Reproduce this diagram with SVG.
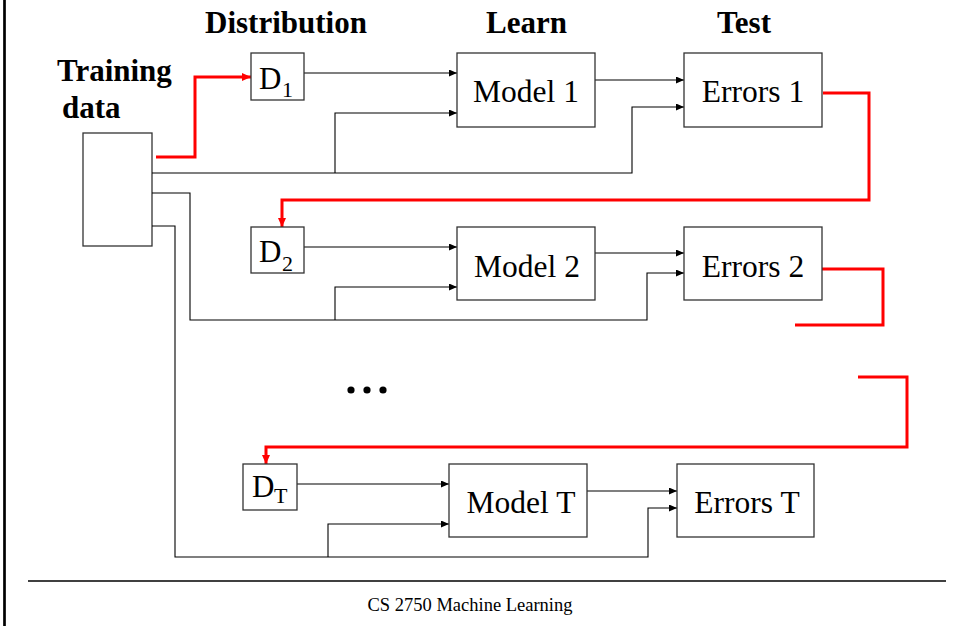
<svg xmlns="http://www.w3.org/2000/svg" width="955" height="626" viewBox="0 0 955 626">
<defs>
<marker id="ah" markerWidth="8" markerHeight="7" refX="8" refY="3.5" orient="auto" markerUnits="userSpaceOnUse"><path d="M0,0 L8,3.5 L0,7 z" fill="#000"/></marker>
<marker id="ahr" markerWidth="9" markerHeight="8" refX="9" refY="4" orient="auto" markerUnits="userSpaceOnUse"><path d="M0,0 L9,4 L0,8 z" fill="#ff0000"/></marker>
</defs>
<style>
.box{fill:#fff;stroke:#333;stroke-width:1.3}
.lbl{font-family:"Liberation Serif","Times New Roman",serif;font-size:31.5px;fill:#000;text-anchor:middle}
.hd{font-family:"Liberation Serif","Times New Roman",serif;font-size:31px;font-weight:bold;fill:#000}
.dl{font-family:"Liberation Serif","Times New Roman",serif;font-size:31px;fill:#000}
.ds{font-family:"Liberation Serif","Times New Roman",serif;font-size:22px;fill:#000}
.ln{fill:none;stroke:#000;stroke-width:1.1}
.arr{marker-end:url(#ah)}
.red{fill:none;stroke:#ff0000;stroke-width:3}
.redarr{marker-end:url(#ahr)}
</style>
<rect width="955" height="626" fill="#fff"/>
<line x1="4.5" y1="0" x2="4.5" y2="626" stroke="#000" stroke-width="2.7"/>
<line x1="28" y1="581" x2="946" y2="581" stroke="#000" stroke-width="1.4"/>
<text x="470" y="611" font-family="'Liberation Serif','Times New Roman',serif" font-size="19" text-anchor="middle" textLength="205" lengthAdjust="spacingAndGlyphs">CS 2750 Machine Learning</text>

<g id="headings">
<text class="hd" x="205" y="33">Distribution</text>
<text class="hd" x="486" y="33">Learn</text>
<text class="hd" x="717" y="33">Test</text>
</g>

<g id="training-data">
<text class="hd" x="57" y="81">Training</text>
<text class="hd" x="62" y="118">data</text>
<rect class="box" x="83" y="133" width="69" height="113"/>
</g>

<g id="connectors">
<polyline class="red redarr" points="156,157 195,157 195,77 251,77"/>
<line class="ln arr" x1="304" y1="73" x2="457" y2="73"/>
<polyline class="ln arr" points="152,173 632,173 632,107 684,107"/>
<polyline class="ln arr" points="335,173 335,113 457,113"/>
<line class="ln arr" x1="595" y1="80" x2="684" y2="80"/>
<polyline class="red redarr" points="823,93 869,93 869,200 282,200 282,227"/>

<line class="ln arr" x1="304" y1="247" x2="457" y2="247"/>
<polyline class="ln arr" points="152,193 190,193 190,320 647,320 647,273 684,273"/>
<polyline class="ln arr" points="335,320 335,287 457,287"/>
<line class="ln arr" x1="595" y1="253" x2="684" y2="253"/>
<polyline class="red" points="819,269 883,269 883,325 795,325"/>

<polyline class="red redarr" points="858,377 907,377 907,447 266,447 266,464"/>

<line class="ln arr" x1="297" y1="484" x2="449" y2="484"/>
<polyline class="ln arr" points="152,226 175,226 175,557 648,557 648,508 677,508"/>
<polyline class="ln arr" points="328,557 328,524 449,524"/>
<line class="ln arr" x1="587" y1="491" x2="677" y2="491"/>
</g>

<g id="d1">
<rect class="box" x="251" y="53" width="53" height="47"/>
<text class="dl" x="259" y="88.5">D</text><text class="ds" x="282" y="97">1</text>
</g>
<g id="model1">
<rect class="box" x="457" y="53" width="138" height="74"/>
<text class="lbl" x="526" y="102">Model 1</text>
</g>
<g id="errors1">
<rect class="box" x="684" y="53" width="138" height="74"/>
<text class="lbl" x="753" y="102">Errors 1</text>
</g>

<g id="d2">
<rect class="box" x="251" y="227" width="53" height="46"/>
<text class="dl" x="259" y="262">D</text><text class="ds" x="282" y="271">2</text>
</g>
<g id="model2">
<rect class="box" x="457" y="227" width="138" height="73"/>
<text class="lbl" x="527" y="277">Model 2</text>
</g>
<g id="errors2">
<rect class="box" x="684" y="227" width="138" height="73"/>
<text class="lbl" x="753" y="277">Errors 2</text>
</g>

<g id="ellipsis">
<circle cx="351" cy="390" r="3.6"/>
<circle cx="367" cy="390" r="3.6"/>
<circle cx="383" cy="390" r="3.6"/>
</g>

<g id="dT">
<rect class="box" x="243" y="464" width="54" height="46"/>
<text class="dl" x="252" y="497">D</text><text class="ds" x="274" y="503">T</text>
</g>
<g id="modelT">
<rect class="box" x="449" y="464" width="138" height="73"/>
<text class="lbl" x="521" y="513">Model T</text>
</g>
<g id="errorsT">
<rect class="box" x="677" y="464" width="137" height="73"/>
<text class="lbl" x="747" y="513">Errors T</text>
</g>
</svg>
